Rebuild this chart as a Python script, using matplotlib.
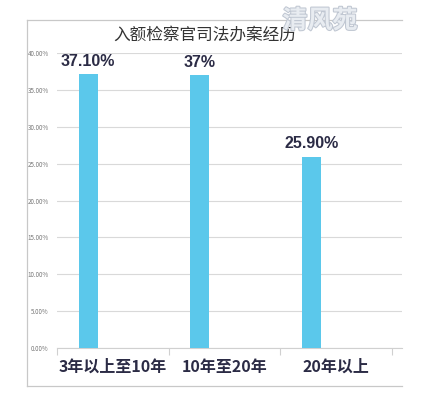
import matplotlib.pyplot as plt
import matplotlib.patheffects as pe
from matplotlib.lines import Line2D
from matplotlib.ticker import FuncFormatter, FixedLocator

plt.rcParams['font.family'] = ['Noto Sans CJK SC', 'DejaVu Sans']

# data
categories = ["3年以上至10年", "10年至20年", "20年以上"]
values = [37.10, 37.0, 25.90]
value_labels = ["37.10%", "37%", "25.90%"]
title = "入额检察官司法办案经历"

# figure
fig = plt.figure(figsize=(4.21, 3.96), dpi=100)
ax = fig.add_axes([57 / 421, 48 / 396, 345 / 421, 295 / 396])

x = range(len(categories))
bar_x = [i - 0.22 for i in x]
bars = ax.bar(bar_x, values, width=0.17, color='#5bc8eb', zorder=3)

for b, lab in zip(bars, value_labels):
    ax.annotate(lab, (b.get_x() + b.get_width() / 2, b.get_height()),
                xytext=(0, 4), textcoords='offset points',
                ha='center', va='bottom', fontsize=11.5, fontweight='bold',
                color='#2b2b45', family=['Liberation Sans'])

ax.set_xlim(-0.5, 2.59)
ax.set_ylim(0, 40)
ax.yaxis.set_major_locator(FixedLocator([i * 5 for i in range(9)]))
ax.yaxis.set_major_formatter(FuncFormatter(lambda v, p: f"{v:.2f}%"))
ax.tick_params(axis='y', labelsize=4.5, labelcolor='#777777', length=0, pad=6)
ax.grid(axis='y', color='#d9d9d9', linewidth=0.8, zorder=0)

# category ticks at boundaries, labels at centres
ax.set_xticks([-0.5, 0.5, 1.5, 2.5])
ax.set_xticklabels([])
ax.tick_params(axis='x', length=5, color='#d0d0d0', width=0.8)
ax.set_xticks(list(x), minor=True)
ax.set_xticklabels(categories, minor=True, fontsize=11.5, fontweight='bold',
                   color='#2b2b45')
ax.tick_params(axis='x', which='minor', length=0, pad=8)

for s in ['top', 'right', 'left']:
    ax.spines[s].set_visible(False)
ax.spines['bottom'].set_color('#d0d0d0')

# outer frame (right side cut off in the source image)
frame_kw = dict(color='#c8c8c8', linewidth=0.9, transform=fig.transFigure)
fig.add_artist(Line2D([27 / 421, 402 / 421], [376 / 396, 376 / 396], **frame_kw))
fig.add_artist(Line2D([27 / 421, 402 / 421], [10 / 396, 10 / 396], **frame_kw))
fig.add_artist(Line2D([27 / 421, 27 / 421], [10 / 396, 376 / 396], **frame_kw))

fig.text(205 / 421, 361 / 396, title, ha='center', va='center',
         fontsize=12, fontweight='medium', color='#333333')

# watermark
fig.text(320 / 421, 375 / 396, "清风苑", ha='center', va='center',
         fontsize=18, fontweight='bold', color='#e8ecf1',
         path_effects=[pe.withStroke(linewidth=1.5, foreground='#c0c7d2')])

fig.savefig('out.png', dpi=100)
